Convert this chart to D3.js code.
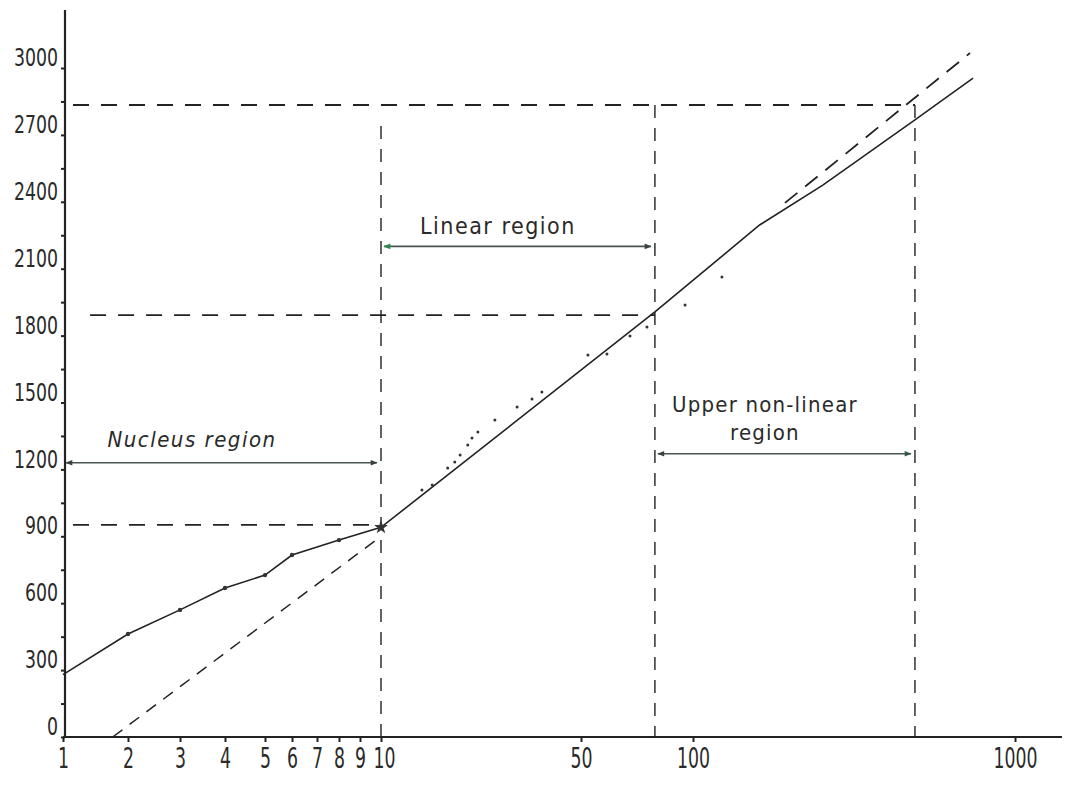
<!DOCTYPE html>
<html>
<head>
<meta charset="utf-8">
<script src="https://cdn.jsdelivr.net/npm/d3@7/dist/d3.min.js"></script>
<style>
  html, body { margin: 0; padding: 0; background: #ffffff; }
  svg { display: block; }
  text { font-family: "Liberation Sans Narrow", "DejaVu Sans Condensed", "Liberation Sans", sans-serif; fill: #2a2a2a; }
</style>
</head>
<body>
<svg id="chart" width="1073" height="785"></svg>
<script>
// ---------------- data ----------------
const xTickValues = [1, 2, 3, 4, 5, 6, 7, 8, 9, 10, 50, 100, 1000];
const xTickLabels = ["1", "2", "3", "4", "5", "6", "7", "8", "9", "10", "50", "100", "1000"];
const yTickValues = [0, 300, 600, 900, 1200, 1500, 1800, 2100, 2400, 2700, 3000];
const yTickLabels = ["0", "300", "600", "900", "1200", "1500", "1800", "2100", "2400", "2700", "3000"];

// solid measured curve (x, y)
const curveX = [1, 2, 3, 4, 5, 6, 8, 10, 79, 161, 253, 489, 741];
const curveY = [280, 462, 570, 668, 726, 816, 883, 940, 1906, 2296, 2475, 2767, 2955];
// markers drawn on the nucleus part of the curve
const markerX = [2, 3, 4, 5, 6, 8];
const markerY = [462, 570, 668, 726, 816, 883];

// dashed tangent in nucleus region
const lowDashX = [1.7, 10];
const lowDashY = [0, 900];
// dashed extrapolation of the linear region
const highDashX = [193, 725];
const highDashY = [2395, 3067];

// scattered dots near the linear region
const dotX = [13.9, 15.1, 17.1, 18.1, 18.9, 20.1, 20.8, 21.8, 25.0, 29.9, 33.7, 36.5, 52.2, 58.7, 67.7, 75.2, 95.2, 123];
const dotY = [1108, 1130, 1206, 1233, 1265, 1309, 1341, 1368, 1422, 1480, 1516, 1547, 1713, 1717, 1798, 1839, 1937, 2063];

// region boundary guides
const vGuideX = [10, 79, 489];
const vGuideTop = [2740, 2834, 2834];
const hGuideY = [2834, 1892, 951];
const hGuideFrom = [1, 1.2, 1];
const hGuideTo = [489, 79, 10];

// region annotations
const regionNames = ["Nucleus region", "Linear region", "Upper non-linear", "region"];
const regionArrowFrom = [1, 10, 79];
const regionArrowTo = [10, 79, 489];
const regionArrowY = [1230, 2200, 1270];

// ---------------- scales ----------------
const svg = d3.select("#chart");
const x = d3.scaleLog()
  .domain(xTickValues)
  .range([63, 128, 180, 225, 265, 292, 317, 339, 360, 381, 581, 693, 1015]);
const y = d3.scaleLinear().domain([0, 3000]).range([737, 68]);

const ink = "#222";
const tickFont = "'Liberation Sans Narrow', 'DejaVu Sans Condensed', sans-serif";

// ---------------- axes ----------------
const xAxis = svg.append("g").attr("transform", `translate(0,${y(0)})`)
  .call(d3.axisBottom(x).tickValues(xTickValues)
    .tickFormat((d, i) => xTickLabels[i]).tickSize(5).tickPadding(6));
xAxis.select(".domain").remove();
xAxis.selectAll(".tick line").attr("stroke", ink).attr("stroke-width", 2);
xAxis.selectAll(".tick text").attr("font-size", 28).attr("fill", "#2a2a2a")
  .attr("font-family", tickFont)
  .attr("textLength", function () { return this.textContent.length * 11; })
  .attr("lengthAdjust", "spacingAndGlyphs");
xAxis.selectAll(".tick").filter(d => d === 10).select("text").attr("dx", 3);
svg.append("line").attr("x1", x(1)).attr("x2", 1062).attr("y1", y(0)).attr("y2", y(0))
  .attr("stroke", ink).attr("stroke-width", 2);

const yMinor = d3.range(0, 3001, 150);
const yAxis = svg.append("g").attr("transform", `translate(${x(1) + 2},0)`)
  .call(d3.axisLeft(y).tickValues(yMinor)
    .tickFormat(d => { const i = yTickValues.indexOf(d); return i >= 0 ? yTickLabels[i] : ""; })
    .tickSize(4).tickPadding(3));
yAxis.select(".domain").remove();
yAxis.selectAll(".tick line").attr("stroke", ink).attr("stroke-width", 2);
yAxis.selectAll(".tick text").attr("font-size", 24).attr("dy", "-0.1em").attr("fill", "#2a2a2a")
  .attr("font-family", tickFont)
  .attr("textLength", function () { return this.textContent.length * 11; })
  .attr("lengthAdjust", "spacingAndGlyphs");
svg.append("line").attr("x1", x(1) + 2).attr("x2", x(1) + 2).attr("y1", 10).attr("y2", y(0))
  .attr("stroke", ink).attr("stroke-width", 2.2);

// ---------------- guides ----------------
const dash = "13 10";
vGuideX.forEach((vx, i) => {
  svg.append("line").attr("x1", x(vx)).attr("x2", x(vx))
    .attr("y1", y(vGuideTop[i])).attr("y2", y(0))
    .attr("stroke", ink).attr("stroke-width", 1.4).attr("stroke-dasharray", dash);
});
hGuideY.forEach((hy, i) => {
  svg.append("line").attr("x1", x(hGuideFrom[i]) + 10).attr("x2", x(hGuideTo[i]))
    .attr("y1", y(hy)).attr("y2", y(hy))
    .attr("stroke", ink).attr("stroke-width", 1.8).attr("stroke-dasharray", "16 12");
});

// ---------------- lines ----------------
const line = d3.line().x(d => x(d[0])).y(d => y(d[1]));
svg.append("path").datum(d3.zip(curveX, curveY)).attr("d", line)
  .attr("fill", "none").attr("stroke", ink).attr("stroke-width", 1.6);
svg.append("path").datum(d3.zip(lowDashX, lowDashY)).attr("d", line)
  .attr("fill", "none").attr("stroke", ink).attr("stroke-width", 1.5).attr("stroke-dasharray", "12 9");
svg.append("path").datum(d3.zip(highDashX, highDashY)).attr("d", line)
  .attr("fill", "none").attr("stroke", ink).attr("stroke-width", 1.8).attr("stroke-dasharray", "16 10");

svg.selectAll("circle.mk").data(d3.zip(markerX, markerY)).join("circle").attr("class", "mk")
  .attr("cx", d => x(d[0])).attr("cy", d => y(d[1])).attr("r", 2.2).attr("fill", "#333");
// star at x = 10
const starP = [x(10), y(curveY[curveX.indexOf(10)])];
svg.append("path").attr("d", d3.symbol(d3.symbolStar, 60)())
  .attr("transform", `translate(${starP[0]},${starP[1]})`).attr("fill", "#333");

svg.selectAll("circle.dot").data(d3.zip(dotX, dotY)).join("circle").attr("class", "dot")
  .attr("cx", d => x(d[0])).attr("cy", d => y(d[1])).attr("r", 1.5).attr("fill", "#333");

// ---------------- annotations ----------------
const defs = svg.append("defs");
function marker(id, color, reverse) {
  defs.append("marker").attr("id", id).attr("viewBox", "0 0 10 10")
    .attr("refX", reverse ? 1 : 9).attr("refY", 5).attr("markerWidth", 9).attr("markerHeight", 7)
    .attr("markerUnits", "userSpaceOnUse").attr("orient", "auto")
    .append("path").attr("d", reverse ? "M10,1 L0,5 L10,9 Z" : "M0,1 L10,5 L0,9 Z").attr("fill", color);
}
marker("endDark", "#3a423c", false);
marker("startDark", "#3a423c", true);
marker("startGreen", "#2f8a4a", true);
marker("endGreen", "#34584a", false);
const arrowStarts = ["url(#startDark)", "url(#startGreen)", "url(#startDark)"];
const arrowEnds = ["url(#endDark)", "url(#endDark)", "url(#endGreen)"];
regionArrowFrom.forEach((a, i) => {
  svg.append("line").attr("x1", x(a) + 3).attr("x2", x(regionArrowTo[i]) - 4)
    .attr("y1", y(regionArrowY[i])).attr("y2", y(regionArrowY[i]))
    .attr("stroke", "#4a564e").attr("stroke-width", 1.6)
    .attr("marker-start", arrowStarts[i]).attr("marker-end", arrowEnds[i]);
});

const textFont = "'Liberation Sans Narrow', 'DejaVu Sans Condensed', sans-serif";
svg.append("text").attr("x", (x(1) + x(10)) / 2 - 30).attr("y", y(regionArrowY[0]) - 16)
  .attr("text-anchor", "middle").attr("font-size", 22).attr("font-style", "italic")
  .attr("letter-spacing", 1.5).attr("font-family", textFont).text(regionNames[0]);
svg.append("text").attr("x", (x(10) + x(79)) / 2 - 20).attr("y", y(regionArrowY[1]) - 12)
  .attr("text-anchor", "middle").attr("font-size", 23)
  .attr("letter-spacing", 1.5).attr("font-family", textFont).text(regionNames[1]);
svg.append("text").attr("x", (x(79) + x(489)) / 2 - 20).attr("y", y(regionArrowY[2]) - 42)
  .attr("text-anchor", "middle").attr("font-size", 22)
  .attr("letter-spacing", 1.2).attr("font-family", textFont).text(regionNames[2]);
svg.append("text").attr("x", (x(79) + x(489)) / 2 - 20).attr("y", y(regionArrowY[2]) - 14)
  .attr("text-anchor", "middle").attr("font-size", 22)
  .attr("letter-spacing", 1.2).attr("font-family", textFont).text(regionNames[3]);
</script>
</body>
</html>
